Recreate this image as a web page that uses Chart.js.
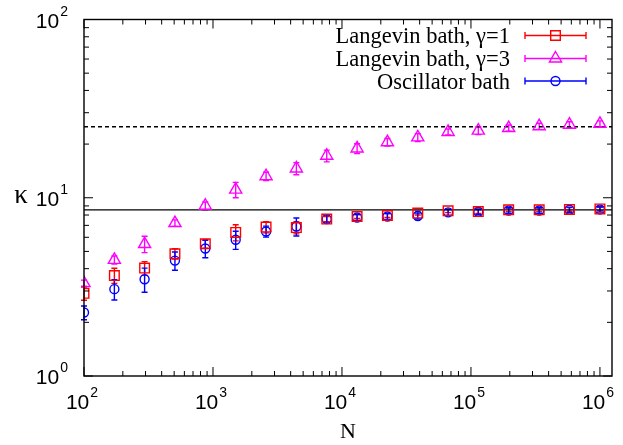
<!DOCTYPE html>
<html>
<head>
<meta charset="utf-8">
<script src="https://cdn.jsdelivr.net/npm/chart.js@4"></script>
<style>
  html, body { margin: 0; padding: 0; background: #fff; }
  #wrap { width: 623px; height: 445px; position: relative; }
</style>
</head>
<body>
<div id="wrap"><canvas id="chart"></canvas></div>
<script>
// System size N (x) and thermal conductivity kappa (y)
const sizes = [100, 172, 295, 507, 872, 1500, 2580, 4430, 7620, 13100, 22500, 38700, 66500, 114000, 196000, 338000, 580000, 1000000];

const langevin1    = [2.91, 3.66, 4.03, 4.85, 5.52, 6.39, 6.85, 6.80, 7.59, 7.85, 7.95, 8.20, 8.45, 8.37, 8.56, 8.56, 8.60, 8.65];
const langevin1Err = [0.25, 0.36, 0.35, 0.32, 0.30, 0.66, 0.50, 0.53, 0.25, 0.20, 0.20, 0.20, 0.20, 0.20, 0.20, 0.20, 0.20, 0.20];

const langevin3    = [3.32, 4.48, 5.50, 7.21, 9.02, 11.1, 13.2, 14.6, 17.2, 18.9, 20.5, 21.8, 23.4, 23.8, 24.6, 25.2, 25.7, 26.0];
const langevin3Err = [0.13, 0.23, 0.58, 0.30, 0.45, 1.10, 0.70, 1.15, 1.30, 1.20, 1.00, 1.10, 0.90, 1.20, 1.00, 1.00, 1.00, 1.00];

const oscillator    = [2.27, 3.07, 3.49, 4.44, 5.19, 5.81, 6.47, 6.90, 7.59, 7.75, 7.85, 7.90, 8.28, 8.35, 8.48, 8.48, 8.56, 8.60];
const oscillatorErr = [0.20, 0.40, 0.54, 0.52, 0.58, 0.68, 0.46, 0.80, 0.40, 0.30, 0.30, 0.30, 0.30, 0.30, 0.30, 0.30, 0.30, 0.30];

// asymptotic values (horizontal reference lines)
const kappaSolid = 8.55;
const kappaDashed = 25;

const xMin = 100, xMax = 1.24e6;
const yMin = 1, yMax = 100;
const xDecades = [2, 3, 4, 5, 6];
const yDecades = [0, 1, 2];

const series = [
  { label: 'Langevin bath, \u03b3=1', values: langevin1, errs: langevin1Err, color: '#ff0000', style: 'rect', radius: 6.8 },
  { label: 'Langevin bath, \u03b3=3', values: langevin3, errs: langevin3Err, color: '#ff00ff', style: 'triangle', radius: 7 },
  { label: 'Oscillator bath', values: oscillator, errs: oscillatorErr, color: '#0000ff', style: 'circle', radius: 4.5 }
];

const toPoints = vals => vals.map((v, i) => ({ x: sizes[i], y: v }));

const datasets = series.map(s => ({
  data: toPoints(s.values),
  showLine: false,
  pointStyle: s.style,
  pointRadius: s.radius,
  pointBorderWidth: 1.4,
  pointBorderColor: s.color,
  pointBackgroundColor: 'rgba(0,0,0,0)'
}));
datasets.push({
  data: [{ x: xMin, y: kappaSolid }, { x: xMax, y: kappaSolid }],
  showLine: true, pointRadius: 0, borderColor: '#000', borderWidth: 1.4
});
datasets.push({
  data: [{ x: xMin, y: kappaDashed }, { x: xMax, y: kappaDashed }],
  showLine: true, pointRadius: 0, borderColor: '#000', borderWidth: 1.4, borderDash: [4, 3]
});

const SANS = '"Liberation Sans", Arial, sans-serif';
const SERIF = '"Liberation Serif", "Times New Roman", serif';

function powerLabel(ctx, exp, x, y, align) {
  ctx.font = '21px ' + SANS;
  const wBase = ctx.measureText('10').width;
  ctx.font = '14px ' + SANS;
  const wExp = ctx.measureText(String(exp)).width + 1;
  let left = align === 'right' ? x - wBase - wExp : x - (wBase + wExp) / 2;
  ctx.textAlign = 'left';
  ctx.textBaseline = 'alphabetic';
  ctx.font = '21px ' + SANS;
  ctx.fillText('10', left, y);
  ctx.font = '14px ' + SANS;
  ctx.fillText(String(exp), left + wBase + 1, y - 12);
}

function errorBars(ctx, xs, ys, s) {
  ctx.save();
  ctx.strokeStyle = s.color;
  ctx.lineWidth = 1.4;
  s.values.forEach((v, i) => {
    const x = xs.getPixelForValue(sizes[i]);
    const lo = ys.getPixelForValue(v - s.errs[i]);
    const hi = ys.getPixelForValue(v + s.errs[i]);
    ctx.beginPath();
    ctx.moveTo(x, lo); ctx.lineTo(x, hi);
    ctx.moveTo(x - 3, lo); ctx.lineTo(x + 3, lo);
    ctx.moveTo(x - 3, hi); ctx.lineTo(x + 3, hi);
    ctx.stroke();
  });
  ctx.restore();
}

const decor = {
  id: 'decor',
  beforeDatasetsDraw(chart) {
    const { ctx, scales: { x: xs, y: ys } } = chart;
    series.forEach(s => errorBars(ctx, xs, ys, s));
  },
  afterDraw(chart) {
    const { ctx, chartArea: a, scales: { x: xs, y: ys } } = chart;
    ctx.save();
    ctx.strokeStyle = '#000';
    ctx.fillStyle = '#000';
    ctx.lineWidth = 1.4;
    ctx.strokeRect(a.left, a.top, a.right - a.left, a.bottom - a.top);

    // inward ticks on all four sides
    ctx.lineWidth = 1;
    ctx.beginPath();
    for (let d = 2; d <= 6; d++) {
      for (let m = 1; m <= 9; m++) {
        const v = m * Math.pow(10, d);
        if (v > xMax) continue;
        const px = xs.getPixelForValue(v);
        const len = m === 1 ? 9 : 5;
        ctx.moveTo(px, a.bottom); ctx.lineTo(px, a.bottom - len);
        ctx.moveTo(px, a.top); ctx.lineTo(px, a.top + len);
      }
    }
    for (let d = 0; d <= 2; d++) {
      for (let m = 1; m <= 9; m++) {
        const v = m * Math.pow(10, d);
        if (v > yMax) continue;
        const py = ys.getPixelForValue(v);
        const len = m === 1 ? 9 : 5;
        ctx.moveTo(a.left, py); ctx.lineTo(a.left + len, py);
        ctx.moveTo(a.right, py); ctx.lineTo(a.right - len, py);
      }
    }
    ctx.stroke();

    // tick labels
    xDecades.forEach(d => powerLabel(ctx, d, xs.getPixelForValue(Math.pow(10, d)) - 2, a.bottom + 33, 'center'));
    yDecades.forEach(d => powerLabel(ctx, d, 68, ys.getPixelForValue(Math.pow(10, d)) + 8, 'right'));

    // axis titles
    ctx.textAlign = 'center';
    ctx.textBaseline = 'alphabetic';
    ctx.font = '22px ' + SERIF;
    ctx.fillText('N', (a.left + a.right) / 2, 438);
    ctx.font = '27px ' + SERIF;
    ctx.fillText('\u03ba', 21, 203);

    // legend
    const rows = [35.5, 58.5, 81];
    series.forEach((s, i) => {
      const y = rows[i];
      ctx.fillStyle = '#000';
      ctx.font = '22.5px ' + SERIF;
      ctx.textAlign = 'right';
      ctx.fillText(s.label, 510, y + 7.5);
      ctx.strokeStyle = s.color;
      ctx.lineWidth = 1.4;
      ctx.beginPath();
      ctx.moveTo(525, y); ctx.lineTo(586, y);
      ctx.moveTo(525, y - 3.5); ctx.lineTo(525, y + 3.5);
      ctx.moveTo(586, y - 3.5); ctx.lineTo(586, y + 3.5);
      ctx.stroke();
      ctx.fillStyle = 'rgba(0,0,0,0)';
      Chart.helpers.drawPoint(ctx, { pointStyle: s.style, radius: s.radius, rotation: 0, borderWidth: 1.4 }, 555.5, y);
    });
    ctx.restore();
  }
};

new Chart(document.getElementById('chart'), {
  type: 'scatter',
  data: { datasets },
  options: {
    responsive: true,
    maintainAspectRatio: false,
    animation: false,
    layout: { padding: { left: 0, right: 11, top: 19.5, bottom: 0 } },
    plugins: { legend: { display: false }, tooltip: { enabled: false } },
    scales: {
      x: {
        type: 'logarithmic', min: xMin, max: xMax,
        grid: { display: false }, border: { display: false },
        ticks: { display: false },
        afterFit: s => { s.height = 69; }
      },
      y: {
        type: 'logarithmic', min: yMin, max: yMax,
        grid: { display: false }, border: { display: false },
        ticks: { display: false },
        afterFit: s => { s.width = 84; }
      }
    }
  },
  plugins: [decor]
});
</script>
</body>
</html>
